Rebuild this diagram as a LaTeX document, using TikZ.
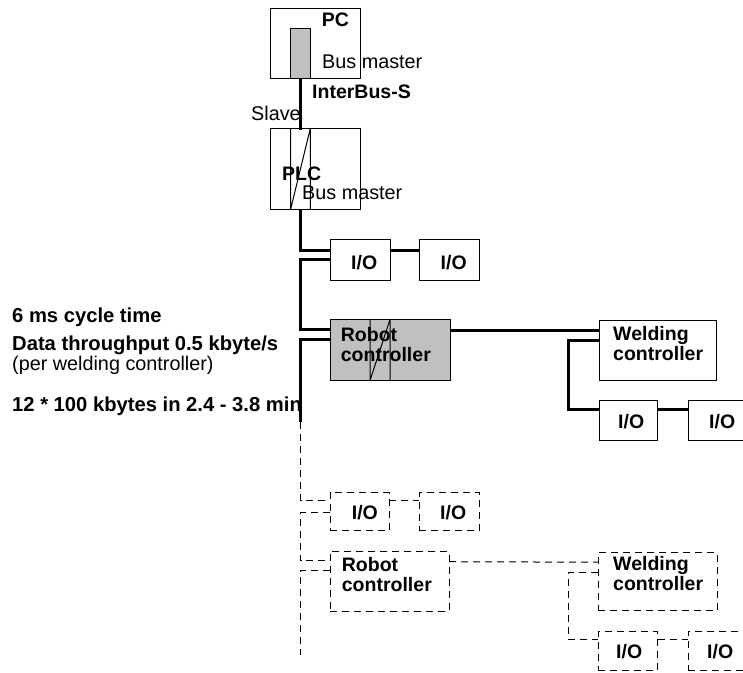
\documentclass[tikz,border=0pt]{standalone}
\usepackage{fontspec}
\setmainfont{Liberation Sans}
\usetikzlibrary{calc}
\definecolor{boxgray}{HTML}{C0C0C0}
\tikzset{
  box/.style={draw=black, line width=1pt, inner sep=0pt, outer sep=0pt, rectangle},
  dbox/.style={box, dash pattern=on 7pt off 5pt},
  bus/.style={line width=3pt},
  dbus/.style={line width=1pt, dash pattern=on 7pt off 5pt},
  thin/.style={line width=1pt},
  lbl/.style={font=\fontsize{19.5}{19.5}\selectfont\bfseries, anchor=base west, inner sep=0pt},
  nlbl/.style={font=\fontsize{19.8}{19.8}\selectfont, anchor=base west, inner sep=0pt},
  blbl/.style={font=\fontsize{20.2}{20.2}\selectfont\bfseries, anchor=base west, inner sep=0pt},
}
\newcommand{\bx}[6][box]{\node[#1, minimum width=#4-#2, minimum height=#5-#3] (#6) at ({(#2+#4)/2},{(#3+#5)/2}) {};}
\begin{document}
\begin{tikzpicture}[x=1pt,y=-1pt]
\useasboundingbox (0,0) rectangle (743,672);
% ---------- solid part ----------
\bx{270.5}{8.5}{360}{78}{pc}
\bx[box,fill=boxgray]{290.7}{28}{310.3}{78}{pcbar}
\bx{270.5}{128.5}{360}{209}{plc}
\draw[thin] (290.7,128.5) -- (290.7,209) (310.3,128.5) -- (310.3,209) (310.3,128.5) -- (290.7,209);
\bx{330}{239.5}{390}{280}{io1}
\bx{419.5}{239.5}{479.5}{280}{io2}
\bx[box,fill=boxgray]{330}{319.5}{450}{380.5}{rob}
\draw[thin] (370,319.5) -- (370,380.5) (390,319.5) -- (390,380.5) (390,319.5) -- (370,380.5);
\bx{599}{320}{716.5}{380}{weld}
\bx{599}{400}{657.5}{440.5}{io3}
\bx{688.5}{400}{760}{440.5}{io4}

\coordinate (busend) at (300.5,422);
\draw[bus] (pcbar.south) -- (300.5,130);
\draw[bus] (plc.south -| pcbar.south) |- ($(io1.north west)+(0,10.5)$);
\draw[bus] ($(io1.north east)+(0,10.5)$) -- ($(io2.north west)+(0,10.5)$);
\draw[bus] ($(io1.north west)+(0,20)$) -| (300.5,329) -- ($(rob.north west)+(0,9.5)$);
\draw[bus] ($(rob.north west)+(0,19.5)$) -| (busend);
\draw[bus] ($(rob.north east)+(0,11)$) -- ($(weld.north west)+(0,10.5)$);
\draw[bus] ($(weld.north west)+(0,20.5)$) -| (568.5,409) -- ($(io3.north west)+(0,9)$);
\draw[bus] ($(io3.north east)+(0,9)$) -- ($(io4.north west)+(0,9)$);

% ---------- dashed part ----------
\bx[dbox]{330}{492.5}{389}{530.7}{dio1}
\bx[dbox]{419.3}{492.5}{479.3}{530.7}{dio2}
\bx[dbox]{330}{551.7}{449}{611}{drob}
\bx[dbox]{598}{552.7}{717}{610.7}{dweld}
\bx[dbox]{598}{631.7}{657.7}{670}{dio3}
\bx[dbox]{688}{631.7}{760}{670}{dio4}
\coordinate (dend) at (300.5,655);
\draw[dbus] (busend) |- ($(dio1.north west)+(0,8)$);
\draw[dbus] ($(dio1.north east)+(0,8)$) -- ($(dio2.north west)+(0,8)$);
\draw[dbus] ($(dio1.north west)+(0,19.5)$) -| (300.5,560.7) -- ($(drob.north west)+(0,9)$);
\draw[dbus] ($(drob.north west)+(0,19)$) -| (dend);
\draw[dbus] ($(drob.north east)+(0,10)$) -- ($(dweld.north west)+(0,9.5)$);
\draw[dbus] ($(dweld.north west)+(0,20)$) -| (568,639) -- ($(dio3.north west)+(0,7.3)$);
\draw[dbus] ($(dio3.north east)+(0,7.3)$) -- ($(dio4.north west)+(0,7.3)$);

% ---------- texts ----------
\node[lbl] (tpc) at (321.7,26.7) {PC};
\node[nlbl] (tbm1) at (322,68) {Bus master};
\node[lbl] (tib) at (312,98) {InterBus-S};
\node[nlbl] (tsl) at (251,120.7) {Slave};
\node[lbl] (tplc) at (282,180) {PLC};
\node[nlbl] (tbm2) at (302,199) {Bus master};
\node[lbl] (tio1) at (351,269.3) {I/O};
\node[lbl] (tio2) at (440.5,269.3) {I/O};
\node[lbl] (trob1) at (340.7,341) {Robot};
\node[lbl] (trob2) at (340.7,361) {controller};
\node[lbl] (tw1) at (613,340.5) {Welding};
\node[lbl] (tw2) at (613,360) {controller};
\node[lbl] (tio3) at (618,428) {I/O};
\node[lbl] (tio4) at (709,428) {I/O};

\node[lbl] (tdio1) at (351.7,519) {I/O};
\node[lbl] (tdio2) at (440,519) {I/O};
\node[lbl] (tdr1) at (341.7,571.7) {Robot};
\node[lbl] (tdr2) at (341.7,591.7) {controller};
\node[lbl] (tdw1) at (613,570.7) {Welding};
\node[lbl] (tdw2) at (613,590) {controller};
\node[lbl] (tdio3) at (616,658) {I/O};
\node[lbl] (tdio4) at (707,658) {I/O};

\node[blbl] (cyc) at (12,322) {6 ms cycle time};
\node[blbl] (thr) at (12,350) {Data throughput 0.5 kbyte/s};
\node[nlbl] (per) at (12,370) {(per welding controller)};
\node[blbl] (kb) at (12,411) {12 * 100 kbytes in 2.4 - 3.8 min};
\end{tikzpicture}
\end{document}
